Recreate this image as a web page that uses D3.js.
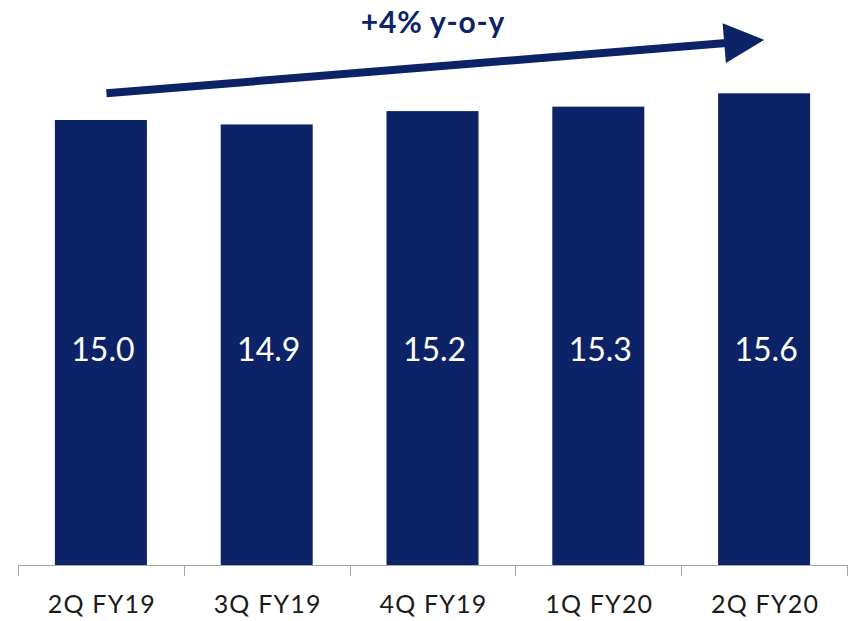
<!DOCTYPE html>
<html>
<head>
<meta charset="utf-8">
<script src="https://cdn.jsdelivr.net/npm/d3@7"></script>
<style>
  html, body { margin: 0; padding: 0; background: #fff; }
  svg { display: block; }
</style>
</head>
<body>
<svg id="chart" width="851" height="621"></svg>
<script>
// Quarterly values
const categories = ["2Q FY19", "3Q FY19", "4Q FY19", "1Q FY20", "2Q FY20"];
const values = [15.0, 14.9, 15.2, 15.3, 15.6];
const growthLabel = "+4% y-o-y";
// Trend arrow runs from the first to the last quarter, in value units
const arrowFrom = { cat: "2Q FY19", value: 15.6 };
const arrowTo = { cat: "2Q FY20", value: 16.8 };

const navy = "#0c2368";
const svg = d3.select("#chart");

const x = d3.scaleBand()
  .domain(categories)
  .range([18, 847])
  .paddingInner(0.445)
  .paddingOuter(0.2225);

const y = d3.scaleLinear().domain([5, 17]).range([565, 31]);

// Bars
svg.append("g").selectAll("rect")
  .data(values)
  .join("rect")
  .attr("x", (d, i) => x(categories[i]))
  .attr("width", x.bandwidth())
  .attr("y", d => y(d))
  .attr("height", d => y(5) - y(d))
  .attr("fill", navy);

// Value labels inside bars
svg.append("g").selectAll("text")
  .data(values)
  .join("text")
  .attr("x", (d, i) => x(categories[i]) + x.bandwidth() / 2 + 2)
  .attr("y", 361)
  .attr("text-anchor", "middle")
  .attr("font-family", "Lato, 'Open Sans', sans-serif")
  .attr("font-size", 32)
  .attr("fill", "#fff")
  .text(d => d.toFixed(1));

// Category axis with boundary ticks
const axisG = svg.append("g").attr("class", "axis");
const step = x.step();
const [r0, r1] = x.range();
axisG.append("line")
  .attr("x1", r0).attr("x2", r1)
  .attr("y1", 565.5).attr("y2", 565.5)
  .attr("stroke", "#a6a6a6").attr("stroke-width", 1);
d3.range(categories.length + 1).forEach(i => {
  const tx = Math.round(r0 + i * step) + 0.5;
  axisG.append("line")
    .attr("x1", tx).attr("x2", tx)
    .attr("y1", 565).attr("y2", 576)
    .attr("stroke", "#a6a6a6").attr("stroke-width", 1);
});
axisG.selectAll("text.cat")
  .data(categories)
  .join("text")
  .attr("class", "cat")
  .attr("x", d => x(d) + x.bandwidth() / 2 + 1)
  .attr("y", 613)
  .attr("text-anchor", "middle")
  .attr("font-family", "Lato, 'Open Sans', sans-serif")
  .attr("font-size", 25)
  .attr("letter-spacing", 1.2)
  .attr("fill", "#1a1a1a")
  .text(d => d);

// Growth arrow
const ax0 = x(arrowFrom.cat) + x.bandwidth() * 0.56;
const ay0 = y(arrowFrom.value);
const ax1 = x(arrowTo.cat) + x.bandwidth() / 2;
const ay1 = y(arrowTo.value);
const ang = Math.atan2(ay1 - ay0, ax1 - ax0);
const headLen = 40, headHalf = 20;
const bx = ax1 - headLen * Math.cos(ang), by = ay1 - headLen * Math.sin(ang);
svg.append("line")
  .attr("x1", ax0).attr("y1", ay0)
  .attr("x2", bx + 2 * Math.cos(ang)).attr("y2", by + 2 * Math.sin(ang))
  .attr("stroke", navy).attr("stroke-width", 8);
const px = -Math.sin(ang), py = Math.cos(ang);
svg.append("path")
  .attr("d", d3.line()([
    [ax1, ay1],
    [bx + headHalf * px, by + headHalf * py],
    [bx - headHalf * px, by - headHalf * py]
  ]) + "Z")
  .attr("fill", navy);

// Growth label
svg.append("text")
  .attr("x", 433)
  .attr("y", 33)
  .attr("text-anchor", "middle")
  .attr("font-family", "Lato, 'Open Sans', sans-serif")
  .attr("font-weight", "bold")
  .attr("font-size", 30)
  .attr("letter-spacing", 0.8)
  .attr("fill", navy)
  .text(growthLabel);
</script>
</body>
</html>
